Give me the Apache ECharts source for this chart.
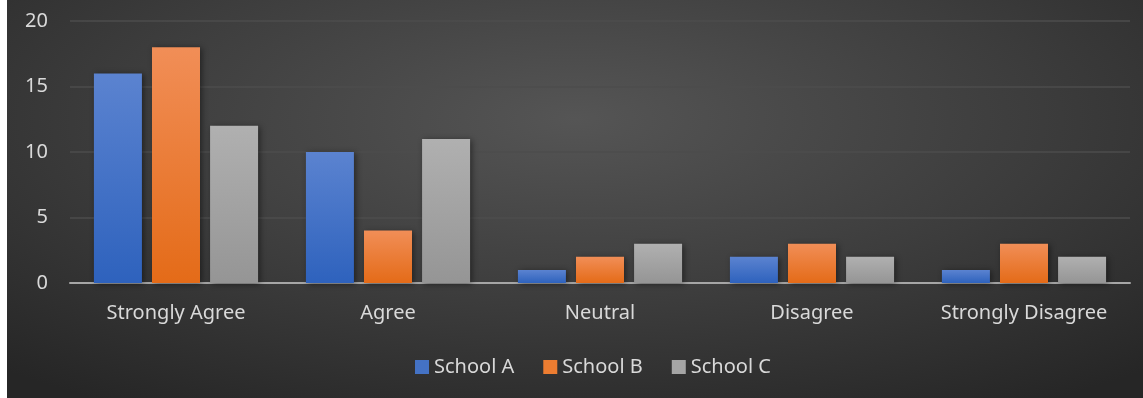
<!DOCTYPE html>
<html>
<head>
<meta charset="utf-8">
<script src="https://cdn.jsdelivr.net/npm/echarts@6/dist/echarts.min.js"></script>
<style>
  html, body { margin: 0; padding: 0; background: #fff; }
  #chart {
    position: absolute; left: 7px; top: 0;
    width: 1136px; height: 398px;
    background: radial-gradient(ellipse 75% 85% at 50% 30%, #555555 0%, #3c3c3c 55%, #262626 100%);
  }
</style>
</head>
<body>
<div id="chart"></div>
<script>
// categories and values
var categories = ['Strongly Agree', 'Agree', 'Neutral', 'Disagree', 'Strongly Disagree'];
var schoolA = [16, 10, 1, 2, 1];
var schoolB = [18, 4, 2, 3, 3];
var schoolC = [12, 11, 3, 2, 2];
var seriesNames = ['School A', 'School B', 'School C'];

var chart = echarts.init(document.getElementById('chart'));
var font = "'Noto Sans', sans-serif";

function grad(top, bottom) {
  return new echarts.graphic.LinearGradient(0, 0, 0, 1, [
    { offset: 0, color: top },
    { offset: 1, color: bottom }
  ]);
}

function barSeries(name, data, top, bottom) {
  return {
    name: name,
    type: 'bar',
    data: data,
    barWidth: 48,
    barGap: '21%',
    itemStyle: {
      color: grad(top, bottom),
      shadowColor: 'rgba(0,0,0,0.45)',
      shadowBlur: 6,
      shadowOffsetX: 2,
      shadowOffsetY: 1
    },
    emphasis: { disabled: true }
  };
}

var option = {
  animation: false,
  textStyle: { fontFamily: font },
  grid: { left: 63, right: 13, top: 21, bottom: 115, containLabel: false },
  legend: {
    bottom: 16,
    left: 403,
    icon: 'rect',
    itemWidth: 14,
    itemHeight: 14,
    itemGap: 29,
    textStyle: { color: '#d9d9d9', fontSize: 20, fontFamily: font },
    data: [
      { name: seriesNames[0], itemStyle: { color: '#4472c4' } },
      { name: seriesNames[1], itemStyle: { color: '#ed7d31' } },
      { name: seriesNames[2], itemStyle: { color: '#a5a5a5' } }
    ]
  },
  xAxis: {
    type: 'category',
    data: categories,
    axisLine: { lineStyle: { color: '#a6a6a6', width: 2 } },
    axisTick: { show: false },
    axisLabel: { color: '#d9d9d9', fontSize: 20, margin: 20, interval: 0 }
  },
  yAxis: {
    type: 'value',
    min: 0,
    max: 20,
    interval: 5,
    axisLine: { show: false },
    axisTick: { show: false },
    axisLabel: { color: '#d9d9d9', fontSize: 20, margin: 22 },
    splitLine: { lineStyle: { color: '#4d4d4d', width: 1.5 } }
  },
  series: [
    barSeries(seriesNames[0], schoolA, '#5b83d0', '#2e62bd'),
    barSeries(seriesNames[1], schoolB, '#f18e57', '#e46b18'),
    barSeries(seriesNames[2], schoolC, '#b0b0b0', '#959595')
  ]
};

chart.setOption(option);
window.addEventListener('resize', function () { chart.resize(); });
</script>
</body>
</html>
